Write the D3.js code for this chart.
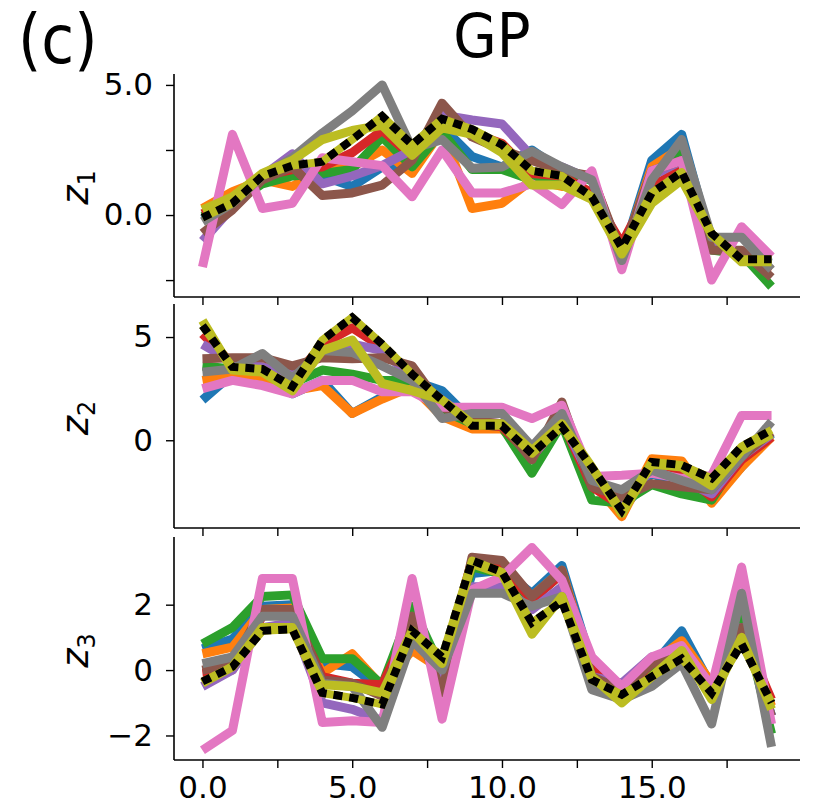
<!DOCTYPE html>
<html>
<head>
<meta charset="utf-8">
<script src="https://cdn.jsdelivr.net/npm/d3@7"></script>
<style>
  body { margin: 0; background: white; }
  text { font-family: 'DejaVu Sans', sans-serif; fill: black; }
</style>
</head>
<body>
<div id="chart"></div>
<script>
const steps = d3.range(20)
const seriesNames = ['blue', 'orange', 'green', 'red', 'purple', 'brown', 'pink', 'gray', 'olive']
const seriesColors = ['#1f77b4', '#ff7f0e', '#2ca02c', '#d62728', '#9467bd', '#8c564b', '#e377c2', '#7f7f7f', '#bcbd22']

// z1 samples
const z1Blue = [-0.15, 0.45, 1.35, 1.85, 1.5, 1.1, 1.85, 1.9, 3.4, 2.25, 1.85, 2.5, 1.7, 1.35, -1.6, 2.1, 3.1, -1.1, -1.6, -1.85]
const z1Orange = [0.25, 0.9, 1.35, 1.1, 1.75, 1.85, 2.5, 1.6, 3.25, 0.25, 0.45, 1.35, 1.1, 1.5, -1.6, 1.85, 2.6, -1.1, -1.6, -2.1]
const z1Green = [-0.05, 0.45, 1.2, 1.5, 1.6, 1.75, 3.0, 1.85, 3.2, 1.75, 1.75, 1.35, 1.5, 1.35, -1.6, 1.6, 2.4, -1.35, -1.5, -2.75]
const z1Red = [0.05, 0.6, 1.5, 1.75, 1.85, 2.4, 3.25, 2.25, 3.8, 3.15, 2.75, 1.6, 1.5, 0.85, -1.1, 1.1, 1.75, -0.95, -1.5, -2.1]
const z1Purple = [-1.0, 0.3, 1.5, 2.35, 1.2, 1.5, 1.9, 2.5, 3.85, 3.65, 3.5, 2.25, 1.85, 1.35, -1.6, 1.5, 2.1, -1.1, -1.6, -1.7]
const z1Brown = [-0.7, 0.2, 1.35, 1.85, 0.75, 0.85, 1.15, 2.1, 4.3, 3.0, 2.5, 2.1, 1.7, 1.5, -1.5, 1.7, 2.1, -1.35, -1.35, -2.4]
const z1Pink = [-2.0, 3.1, 0.25, 0.45, 2.2, 2.05, 1.9, 0.7, 2.5, 0.85, 0.85, 1.2, 0.4, 1.7, -2.1, 1.7, 2.1, -2.5, -0.45, -1.6]
const z1Gray = [-0.25, 0.45, 1.5, 2.2, 3.15, 4.0, 5.0, 2.55, 2.9, 1.8, 1.85, 2.45, 1.85, 1.35, -1.75, 1.35, 2.9, -0.85, -0.85, -2.1]
const z1Olive = [0.2, 0.7, 1.6, 2.1, 2.9, 3.25, 3.45, 2.3, 3.35, 3.1, 2.4, 1.15, 1.15, 0.6, -1.5, 0.45, 1.35, -0.75, -1.8, -1.8]
const z1Truth = [-0.1, 0.45, 1.5, 1.9, 2.05, 2.9, 3.8, 2.7, 3.7, 3.3, 2.7, 1.7, 1.5, 0.7, -1.25, 0.85, 1.65, -0.7, -1.7, -1.7]

// z2 samples
const z2Blue = [1.95, 3.2, 3.05, 2.25, 2.9, 1.3, 2.1, 2.9, 2.4, 0.95, 0.65, -0.8, 0.8, -1.95, -3.4, -1.6, -2.25, -2.9, -1.3, 0.3]
const z2Orange = [2.9, 3.15, 2.9, 2.4, 2.65, 1.3, 2.0, 2.6, 1.15, 0.55, 0.55, -0.8, 0.7, -1.95, -3.7, -0.9, -1.0, -3.05, -1.3, 0.15]
const z2Green = [3.6, 3.45, 3.4, 2.75, 3.4, 3.2, 2.9, 2.9, 1.45, 0.8, 0.65, -1.6, 0.8, -2.9, -3.05, -2.15, -2.6, -2.9, -0.65, 0.3]
const z2Red = [5.15, 3.7, 3.55, 2.9, 4.65, 5.45, 4.5, 3.05, 1.75, 0.8, 0.65, -0.8, 0.95, -2.25, -3.2, -1.3, -1.6, -2.75, -0.95, 0.15]
const z2Purple = [4.65, 3.8, 3.55, 3.2, 4.2, 4.65, 4.35, 3.05, 1.95, 0.95, 0.8, -0.8, 0.95, -1.95, -2.9, -1.45, -1.95, -2.6, -0.8, 0.3]
const z2Brown = [3.95, 4.0, 4.0, 3.6, 4.0, 3.95, 4.0, 3.6, 1.6, 0.95, 0.8, -0.95, 1.85, -2.25, -2.75, -2.1, -2.25, -2.4, -0.8, 0.4]
const z2Pink = [2.5, 2.9, 2.65, 2.25, 2.9, 2.9, 2.35, 2.35, 1.6, 1.6, 1.6, 1.05, 1.7, -1.75, -1.7, -1.6, -1.85, -1.7, 1.2, 1.2]
const z2Gray = [3.3, 3.45, 4.2, 3.0, 4.35, 4.25, 3.6, 2.9, 1.05, 1.3, 1.3, -0.3, 1.3, -1.95, -2.4, -1.45, -1.95, -2.4, -0.8, 0.9]
const z2Olive = [5.8, 3.4, 3.3, 2.4, 4.35, 4.85, 2.75, 2.4, 1.95, 0.8, 0.8, -0.5, 0.8, -1.3, -3.55, -1.15, -1.3, -2.2, -0.5, 0.3]
const z2Truth = [5.55, 3.55, 3.45, 2.6, 4.85, 5.95, 4.65, 3.2, 1.95, 0.7, 0.7, -0.65, 0.65, -1.3, -3.4, -1.05, -1.2, -1.85, -0.3, 0.5]

// z3 samples
const z3Blue = [0.65, 0.95, 1.95, 2.0, 0.2, 0.1, -0.6, 1.0, -0.1, 2.95, 3.05, 2.35, 3.2, 0.2, -0.5, 0.1, 1.2, -0.5, 1.65, -1.4]
const z3Orange = [0.5, 0.7, 1.85, 1.9, -0.1, 0.5, -0.5, 0.6, 0.0, 3.25, 3.05, 2.25, 3.05, 0.0, -0.6, 0.2, 0.9, -0.4, 1.45, -1.1]
const z3Green = [0.8, 1.3, 2.25, 2.3, 0.35, 0.35, -0.45, 1.95, 0.0, 3.15, 2.95, 2.15, 2.95, -0.4, -0.8, 0.0, 0.4, -0.6, 1.75, -1.95]
const z3Red = [-0.1, 0.0, 1.65, 1.75, -0.2, -0.4, -0.45, 1.45, 0.1, 3.35, 3.15, 2.15, 2.95, 0.0, -0.7, 0.2, 0.4, -0.5, 1.2, -0.9]
const z3Purple = [-0.5, 0.0, 1.3, 1.45, -1.0, -1.2, -1.55, 1.3, -0.1, 2.55, 2.55, 1.85, 2.55, -0.2, -0.4, 0.4, 0.5, -0.5, 1.3, -1.4]
const z3Brown = [0.0, 0.2, 1.85, 1.85, -0.3, -0.4, -0.8, 1.65, -0.7, 3.45, 3.35, 2.25, 3.05, -0.2, -0.6, 0.2, 0.5, -0.6, 1.3, -1.4]
const z3Pink = [-2.45, -1.85, 2.8, 2.8, -1.6, -1.55, -1.6, 2.8, -1.5, 2.45, 2.85, 3.75, 2.75, 0.4, -0.5, 0.4, 0.75, -0.5, 3.15, -1.65]
const z3Gray = [0.2, 0.4, 1.65, 1.65, -0.4, -0.5, -1.75, 0.9, 0.0, 2.35, 2.35, 1.95, 2.25, -0.6, -0.9, -0.5, 0.2, -1.65, 2.35, -2.35]
const z3Olive = [-0.4, 0.1, 1.3, 1.3, -0.45, -0.5, -0.7, 1.2, 0.2, 3.25, 2.95, 1.1, 2.25, -0.2, -1.0, -0.2, 0.6, -0.9, 1.0, -1.2]
const z3Truth = [-0.35, 0.1, 1.2, 1.25, -0.7, -0.85, -1.05, 1.2, 0.4, 3.35, 3.0, 1.45, 2.1, -0.3, -0.75, -0.2, 0.35, -0.7, 0.8, -1.0]

const xTicks = [0, 2.5, 5, 7.5, 10, 12.5, 15, 17.5]
const xTickLabels = ['0.0', '', '5.0', '', '10.0', '', '15.0', '']

const panels = [
  {
    label: '1',
    samples: [z1Blue, z1Orange, z1Green, z1Red, z1Purple, z1Brown, z1Pink, z1Gray, z1Olive],
    truth: z1Truth,
    domain: [-3.15, 5.42],
    ticks: [-2.5, 0, 2.5, 5],
    tickLabels: ['', '0.0', '', '5.0'],
    top: 74,
    bottom: 297
  },
  {
    label: '2',
    samples: [z2Blue, z2Orange, z2Green, z2Red, z2Purple, z2Brown, z2Pink, z2Gray, z2Olive],
    truth: z2Truth,
    domain: [-4.25, 6.6],
    ticks: [0, 5],
    tickLabels: ['0', '5'],
    top: 304,
    bottom: 528
  },
  {
    label: '3',
    samples: [z3Blue, z3Orange, z3Green, z3Red, z3Purple, z3Brown, z3Pink, z3Gray, z3Olive],
    truth: z3Truth,
    domain: [-2.75, 4.07],
    ticks: [-2, 0, 2],
    tickLabels: ['\u22122', '0', '2'],
    top: 537,
    bottom: 760
  }
]

const width = 815
const height = 808
const left = 174
const right = 800

const svg = d3.select('#chart')
  .append('svg')
  .attr('width', width)
  .attr('height', height)

const x = d3.scaleLinear().domain([-0.95, 19.95]).range([left, right])

// titles, a bit narrow like the original
svg.append('text')
  .attr('transform', 'translate(18,63) scale(0.88,1)')
  .style('font-size', '68px')
  .text('(c)')

svg.append('text')
  .attr('transform', 'translate(492,57) scale(0.92,1)')
  .attr('text-anchor', 'middle')
  .style('font-size', '61px')
  .text('GP')

panels.forEach((p, k) => {
  const y = d3.scaleLinear().domain(p.domain).range([p.bottom, p.top])
  const g = svg.append('g')

  const line = d3.line()
    .x((d, i) => x(steps[i]))
    .y(d => y(d))

  p.samples.forEach((s, j) => {
    g.append('path')
      .datum(s)
      .attr('d', line)
      .attr('fill', 'none')
      .attr('stroke', seriesColors[j])
      .attr('stroke-width', 9)
      .attr('stroke-linejoin', 'round')
  })

  // truth: olive underneath, black dots on top
  g.append('path')
    .datum(p.truth)
    .attr('d', line)
    .attr('fill', 'none')
    .attr('stroke', '#bcbd22')
    .attr('stroke-width', 8)
    .attr('stroke-linejoin', 'round')

  g.append('path')
    .datum(p.truth)
    .attr('d', line)
    .attr('fill', 'none')
    .attr('stroke', 'black')
    .attr('stroke-width', 8)
    .attr('stroke-dasharray', '9,7')

  const yAxis = g.append('g')
    .attr('transform', `translate(${left},0)`)
    .call(d3.axisLeft(y).tickValues(p.ticks).tickSize(8).tickPadding(13)
      .tickFormat((d, i) => p.tickLabels[i]))
  yAxis.select('.domain').attr('d', `M0,${p.top}V${p.bottom}`).attr('stroke-width', 1.6)

  const xAxis = g.append('g')
    .attr('transform', `translate(0,${p.bottom})`)
    .call(d3.axisBottom(x).tickValues(xTicks).tickSize(8).tickPadding(8)
      .tickFormat((d, i) => k === 2 ? xTickLabels[i] : ''))
  xAxis.select('.domain').attr('d', `M${left},0H${right}`).attr('stroke-width', 1.6)

  g.selectAll('.tick line').attr('stroke-width', 1.4)
  g.selectAll('.tick text')
    .style('font-size', '31px')
    .style('font-family', "'DejaVu Sans', sans-serif")

  // y label z with subscript
  const mid = (p.top + p.bottom) / 2 + 2
  const lab = svg.append('text')
    .attr('transform', `translate(88,${mid}) rotate(-90)`)
    .attr('text-anchor', 'middle')
    .style('font-size', '37px')
  lab.append('tspan').style('font-style', 'italic').text('z')
  lab.append('tspan').attr('dy', 7).style('font-size', '24px').text(p.label)
})
</script>
</body>
</html>
